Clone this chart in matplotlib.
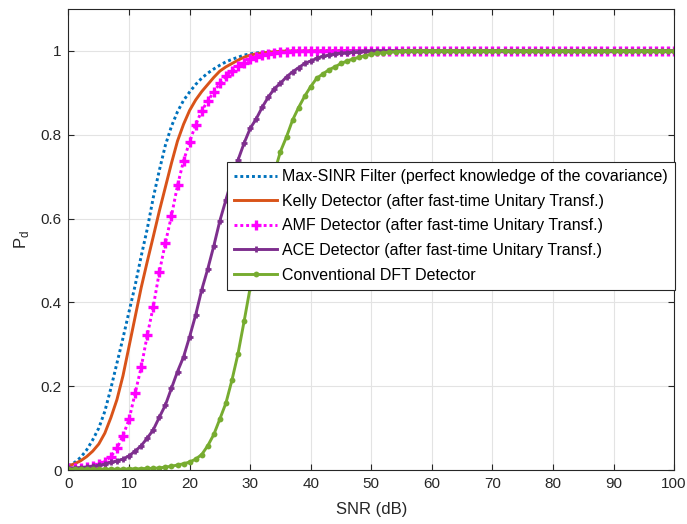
import matplotlib
matplotlib.use("Agg")
import matplotlib.pyplot as plt
import numpy as np

plt.rcParams['font.family'] = ['Liberation Sans', 'DejaVu Sans']
plt.rcParams['mathtext.fontset'] = 'custom'
plt.rcParams['mathtext.rm'] = 'Liberation Sans'

snr_db = list(range(0, 101))

pd_max_sinr = [
    0.010, 0.018, 0.030, 0.048, 0.072, 0.100, 0.140, 0.195, 0.255, 0.315,
    0.378, 0.440, 0.510, 0.575, 0.650, 0.715, 0.775, 0.820, 0.855, 0.882,
    0.902, 0.920, 0.935, 0.947, 0.957, 0.966, 0.974, 0.980, 0.985, 0.990,
    0.993, 0.995, 0.997, 0.998, 0.999, 1.0, 1.0, 1.0, 1.0, 1.0,
    1.0, 1.0, 1.0, 1.0, 1.0, 1.0, 1.0, 1.0, 1.0, 1.0,
    1.0, 1.0, 1.0, 1.0, 1.0, 1.0, 1.0, 1.0, 1.0, 1.0,
    1.0, 1.0, 1.0, 1.0, 1.0, 1.0, 1.0, 1.0, 1.0, 1.0,
    1.0, 1.0, 1.0, 1.0, 1.0, 1.0, 1.0, 1.0, 1.0, 1.0,
    1.0, 1.0, 1.0, 1.0, 1.0, 1.0, 1.0, 1.0, 1.0, 1.0,
    1.0, 1.0, 1.0, 1.0, 1.0, 1.0, 1.0, 1.0, 1.0, 1.0,
    1.0,
]

pd_kelly = [
    0.010, 0.015, 0.022, 0.032, 0.045, 0.062, 0.088, 0.125, 0.168, 0.225,
    0.295, 0.365, 0.435, 0.497, 0.557, 0.618, 0.675, 0.732, 0.785, 0.825,
    0.858, 0.883, 0.903, 0.920, 0.937, 0.952, 0.962, 0.970, 0.978, 0.985,
    0.990, 0.993, 0.995, 0.997, 0.998, 0.999, 1.0, 1.0, 1.0, 1.0,
    1.0, 1.0, 1.0, 1.0, 1.0, 1.0, 1.0, 1.0, 1.0, 1.0,
    1.0, 1.0, 1.0, 1.0, 1.0, 1.0, 1.0, 1.0, 1.0, 1.0,
    1.0, 1.0, 1.0, 1.0, 1.0, 1.0, 1.0, 1.0, 1.0, 1.0,
    1.0, 1.0, 1.0, 1.0, 1.0, 1.0, 1.0, 1.0, 1.0, 1.0,
    1.0, 1.0, 1.0, 1.0, 1.0, 1.0, 1.0, 1.0, 1.0, 1.0,
    1.0, 1.0, 1.0, 1.0, 1.0, 1.0, 1.0, 1.0, 1.0, 1.0,
    1.0,
]

pd_amf = [
    0.005, 0.005, 0.006, 0.008, 0.010, 0.014, 0.020, 0.032, 0.052, 0.082,
    0.121, 0.183, 0.245, 0.321, 0.390, 0.472, 0.542, 0.606, 0.679, 0.738,
    0.783, 0.824, 0.857, 0.881, 0.902, 0.923, 0.940, 0.952, 0.963, 0.972,
    0.980, 0.986, 0.990, 0.993, 0.995, 0.997, 0.998, 0.999, 1.0, 1.0,
    1.0, 1.0, 1.0, 1.0, 1.0, 1.0, 1.0, 1.0, 1.0, 1.0,
    1.0, 1.0, 1.0, 1.0, 1.0, 1.0, 1.0, 1.0, 1.0, 1.0,
    1.0, 1.0, 1.0, 1.0, 1.0, 1.0, 1.0, 1.0, 1.0, 1.0,
    1.0, 1.0, 1.0, 1.0, 1.0, 1.0, 1.0, 1.0, 1.0, 1.0,
    1.0, 1.0, 1.0, 1.0, 1.0, 1.0, 1.0, 1.0, 1.0, 1.0,
    1.0, 1.0, 1.0, 1.0, 1.0, 1.0, 1.0, 1.0, 1.0, 1.0,
    1.0,
]

pd_ace = [
    0.005, 0.005, 0.006, 0.007, 0.009, 0.011, 0.014, 0.018, 0.022, 0.026,
    0.034, 0.045, 0.058, 0.076, 0.096, 0.126, 0.155, 0.195, 0.235, 0.270,
    0.318, 0.370, 0.430, 0.480, 0.535, 0.595, 0.645, 0.695, 0.740, 0.780,
    0.815, 0.838, 0.866, 0.890, 0.910, 0.923, 0.938, 0.950, 0.960, 0.970,
    0.976, 0.982, 0.987, 0.990, 0.993, 0.995, 0.996, 0.997, 0.998, 0.999,
    1.0, 1.0, 1.0, 1.0, 1.0, 1.0, 1.0, 1.0, 1.0, 1.0,
    1.0, 1.0, 1.0, 1.0, 1.0, 1.0, 1.0, 1.0, 1.0, 1.0,
    1.0, 1.0, 1.0, 1.0, 1.0, 1.0, 1.0, 1.0, 1.0, 1.0,
    1.0, 1.0, 1.0, 1.0, 1.0, 1.0, 1.0, 1.0, 1.0, 1.0,
    1.0, 1.0, 1.0, 1.0, 1.0, 1.0, 1.0, 1.0, 1.0, 1.0,
    1.0,
]

pd_dft = [
    0.002, 0.002, 0.002, 0.002, 0.002, 0.002, 0.002, 0.002, 0.002, 0.002,
    0.003, 0.003, 0.003, 0.004, 0.004, 0.005, 0.007, 0.009, 0.012, 0.015,
    0.019, 0.026, 0.037, 0.058, 0.085, 0.122, 0.160, 0.215, 0.278, 0.355,
    0.435, 0.510, 0.580, 0.645, 0.710, 0.760, 0.795, 0.835, 0.865, 0.892,
    0.915, 0.935, 0.945, 0.955, 0.962, 0.970, 0.976, 0.981, 0.985, 0.989,
    0.992, 0.994, 0.996, 0.997, 0.998, 0.999, 1.0, 1.0, 1.0, 1.0,
    1.0, 1.0, 1.0, 1.0, 1.0, 1.0, 1.0, 1.0, 1.0, 1.0,
    1.0, 1.0, 1.0, 1.0, 1.0, 1.0, 1.0, 1.0, 1.0, 1.0,
    1.0, 1.0, 1.0, 1.0, 1.0, 1.0, 1.0, 1.0, 1.0, 1.0,
    1.0, 1.0, 1.0, 1.0, 1.0, 1.0, 1.0, 1.0, 1.0, 1.0,
    1.0,
]

series_labels = [
    "Max-SINR Filter (perfect knowledge of the covariance)",
    "Kelly Detector (after fast-time Unitary Transf.)",
    "AMF Detector (after fast-time Unitary Transf.)",
    "ACE Detector (after fast-time Unitary Transf.)",
    "Conventional DFT Detector",
]

x_ticks = [0, 10, 20, 30, 40, 50, 60, 70, 80, 90, 100]
y_ticks = [0, 0.2, 0.4, 0.6, 0.8, 1.0]
y_tick_labels = ["0", "0.2", "0.4", "0.6", "0.8", "1"]

fig = plt.figure(figsize=(6.87, 5.24), dpi=100)
ax = fig.add_axes([0.0997, 0.103, 0.8815, 0.8798])

lw = 2.1
dot = (0, (1, 1))
ax.plot(snr_db, pd_max_sinr, color="#0072BD", lw=lw, linestyle=dot,
        dash_capstyle="butt", label=series_labels[0])
ax.plot(snr_db, pd_kelly, color="#D95319", lw=lw, label=series_labels[1])
ax.plot(snr_db, pd_amf, color="#FF00FF", lw=lw, linestyle=dot,
        dash_capstyle="butt", marker="+", markersize=6.5, markeredgewidth=2.4,
        label=series_labels[2])
ax.plot(snr_db, pd_ace, color="#7E2F8E", lw=lw, marker="+", markersize=4.5,
        markeredgewidth=2.0, label=series_labels[3])
ax.plot(snr_db, pd_dft, color="#77AC30", lw=lw, marker="o", markersize=4.2,
        markeredgewidth=0, label=series_labels[4])

ax.set_xlim(0, 100)
ax.set_ylim(0, 1.1)
ax.set_xticks(x_ticks)
ax.set_yticks(y_ticks)
ax.set_yticklabels(y_tick_labels)

ax.grid(True, color="#E3E3E3", linewidth=0.8)
ax.set_axisbelow(True)
for s in ax.spines.values():
    s.set_color("#262626")
    s.set_linewidth(0.8)
ax.tick_params(direction="in", length=4.5, width=0.8, colors="#262626",
               labelsize=11, top=True, right=True, pad=5)

ax.set_xlabel("SNR (dB)", fontsize=12, color="#262626", labelpad=8)
ax.set_ylabel(r"P$_\mathrm{d}$", fontsize=12, color="#262626", labelpad=7)

leg = ax.legend(loc="upper right", bbox_to_anchor=(0.9825, 0.6908),
                bbox_transform=fig.transFigure, borderaxespad=0,
                fontsize=11.5, numpoints=1, handlelength=2.7,
                handletextpad=0.3, labelspacing=0.6, borderpad=0.45,
                fancybox=False, framealpha=1, edgecolor="#262626")
leg.get_frame().set_linewidth(0.8)

fig.savefig("out.png", dpi=100)
